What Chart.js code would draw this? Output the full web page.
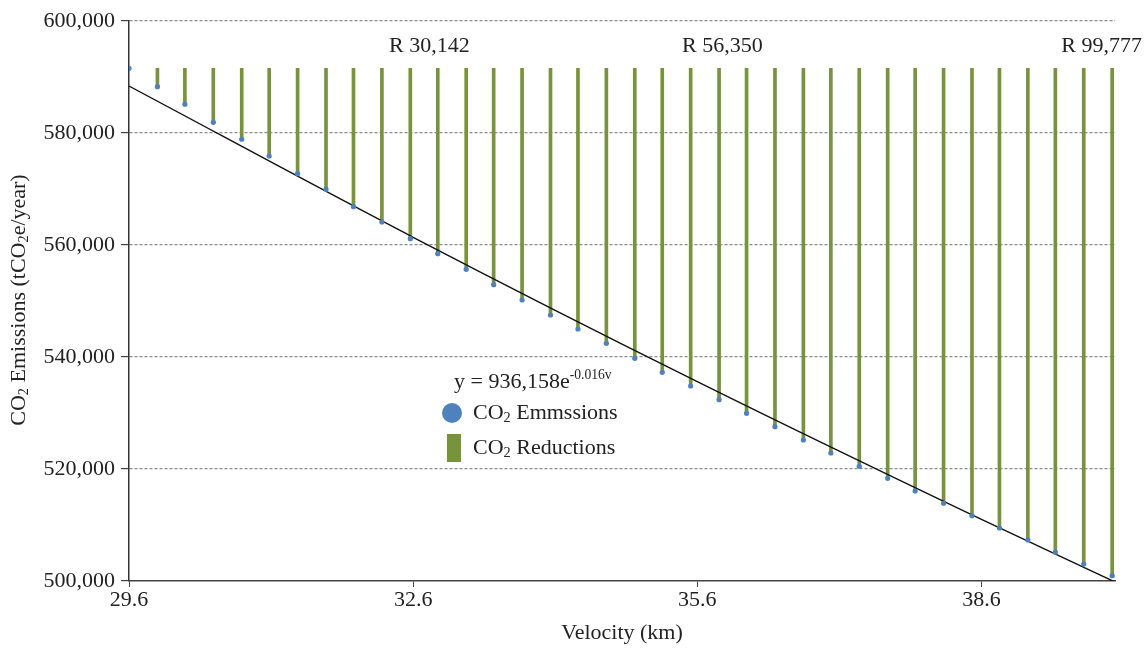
<!DOCTYPE html>
<html>
<head>
<meta charset="utf-8">
<title>CO2 emissions vs velocity</title>
<script src="https://cdn.jsdelivr.net/npm/chart.js@4.4.0/dist/chart.umd.min.js"></script>
<style>
  html, body { margin: 0; padding: 0; background: #fff; }
  #chart { display: block; }
</style>
</head>
<body>
<canvas id="chart" width="1146" height="648"></canvas>
<script>
// velocity (km) of each sample
const velocity = [
  29.60, 29.90, 30.19, 30.49, 30.79, 31.08, 31.38, 31.68, 31.97, 32.27,
  32.57, 32.86, 33.16, 33.45, 33.75, 34.05, 34.34, 34.64, 34.94, 35.23,
  35.53, 35.83, 36.12, 36.42, 36.72, 37.01, 37.31, 37.61, 37.90, 38.20,
  38.50, 38.79, 39.09, 39.38, 39.68, 39.98
];
// CO2 emissions (tCO2e/year)
const emissions = [
  591550, 588270, 585130, 581910, 578880, 575890, 572730, 569950, 566840, 564110,
  561130, 558450, 555660, 552910, 550180, 547500, 545000, 542450, 539770, 537270,
  534820, 532380, 529950, 527550, 525180, 522860, 520480, 518340, 516070, 513880,
  511660, 509460, 507320, 505130, 503040, 500950
];
// exponential trend line
const trendVelocity = [29.6, 32.6, 35.6, 38.6, 40.01];
const trendValues = [588390, 561380, 535600, 511000, 499830];

const xTicks = [29.6, 32.6, 35.6, 38.6];
const yTicks = [500000, 520000, 540000, 560000, 580000, 600000];
const reductionLabels = ['R 30,142', 'R 56,350', 'R 99,777'];
const equationText = 'y = 936,158e';
const equationExp = '-0.016v';

const FONT = "'Liberation Serif', 'Times New Roman', serif";
const TEXT = '#222';
const BLUE = '#4F81BD';
const GREEN = '#77933C';

// text with CO2 style subscripts: parts = [[str, 'sub'|'sup'|null], ...]
function richText(ctx, parts, x, y, size) {
  let cx = x;
  parts.forEach(([str, kind]) => {
    let s = size, dy = 0;
    if (kind === 'sub') { s = size * 0.65; dy = size * 0.22; }
    if (kind === 'sup') { s = size * 0.62; dy = -size * 0.32; }
    ctx.font = s + 'px ' + FONT;
    ctx.fillText(str, cx, y + dy);
    cx += ctx.measureText(str).width;
  });
  return cx - x;
}
function richWidth(ctx, parts, size) {
  let w = 0;
  parts.forEach(([str, kind]) => {
    let s = size;
    if (kind === 'sub') s = size * 0.65;
    if (kind === 'sup') s = size * 0.62;
    ctx.font = s + 'px ' + FONT;
    w += ctx.measureText(str).width;
  });
  return w;
}

const textPlugin = {
  id: 'texts',
  afterDraw(chart) {
    const ctx = chart.ctx;
    ctx.save();
    ctx.fillStyle = TEXT;
    ctx.textBaseline = 'middle';
    ctx.textAlign = 'left';

    // reduction annotations at top
    ctx.font = '22px ' + FONT;
    ctx.fillText(reductionLabels[0], 389, 46);
    ctx.fillText(reductionLabels[1], 682, 46);
    ctx.textAlign = 'right';
    ctx.fillText(reductionLabels[2], 1142, 46);
    ctx.textAlign = 'left';

    // trend equation
    richText(ctx, [[equationText, null], [equationExp, 'sup']], 454, 382, 22);

    // legend
    ctx.fillStyle = BLUE;
    ctx.beginPath();
    ctx.arc(452, 413, 10, 0, Math.PI * 2);
    ctx.fill();
    ctx.fillStyle = GREEN;
    ctx.fillRect(447, 434, 14, 28);
    ctx.fillStyle = TEXT;
    richText(ctx, [['CO', null], ['2', 'sub'], [' Emmssions', null]], 473, 413, 22);
    richText(ctx, [['CO', null], ['2', 'sub'], [' Reductions', null]], 473, 448, 22);

    // x axis title
    ctx.font = '22px ' + FONT;
    ctx.textAlign = 'center';
    ctx.fillText('Velocity (km)', 622, 633);

    // y axis title (rotated)
    const yParts = [['CO', null], ['2', 'sub'], [' Emissions (tCO', null], ['2', 'sub'], ['e/year)', null]];
    ctx.translate(19, 300);
    ctx.rotate(-Math.PI / 2);
    ctx.textAlign = 'left';
    const w = richWidth(ctx, yParts, 22);
    richText(ctx, yParts, -w / 2, 0, 22);
    ctx.restore();
  }
};

const ctx = document.getElementById('chart').getContext('2d');
const chart = new Chart(ctx, {
  type: 'scatter',
  data: {
    datasets: [
      {
        type: 'scatter',
        label: 'CO2 Emmssions',
        data: velocity.map((v, i) => ({ x: v, y: emissions[i] })),
        backgroundColor: BLUE,
        pointRadius: 2.6,
        borderWidth: 0,
        order: 0
      },
      {
        type: 'line',
        label: 'Trend',
        data: trendVelocity.map((v, i) => ({ x: v, y: trendValues[i] })),
        borderColor: '#111',
        borderWidth: 1.4,
        pointRadius: 0,
        cubicInterpolationMode: 'monotone',
        fill: false,
        order: 1
      },
      {
        type: 'bar',
        label: 'CO2 Reductions',
        data: velocity.map((v, i) => ({ x: v, y: [emissions[i], emissions[0]] })),
        backgroundColor: GREEN,
        borderWidth: 0,
        barThickness: 3,
        order: 2
      }
    ]
  },
  options: {
    responsive: false,
    animation: false,
    devicePixelRatio: 1,
    layout: { padding: { top: 21, right: 31, left: 0, bottom: 0 } },
    plugins: { legend: { display: false }, tooltip: { enabled: false } },
    scales: {
      x: {
        type: 'linear',
        min: 29.6,
        max: 40.01,
        offset: false,
        afterBuildTicks: s => { s.ticks = xTicks.map(v => ({ value: v })); },
        afterFit: s => { s.height = 67; },
        grid: { offset: false, drawOnChartArea: false, drawTicks: true, tickLength: 6, tickColor: '#444' },
        border: { color: '#444', width: 1.5 },
        ticks: {
          padding: 0,
          color: TEXT,
          font: { family: FONT, size: 22 },
          maxRotation: 0,
          callback: v => Number(v).toFixed(1)
        }
      },
      y: {
        min: 500000,
        max: 600000,
        afterBuildTicks: s => { s.ticks = yTicks.map(v => ({ value: v })); },
        afterFit: s => { s.width = 129; },
        grid: {
          color: c => c.tick.value === 500000 ? 'rgba(0,0,0,0)' : '#8c8c8c',
          lineWidth: 1.2,
          drawTicks: true,
          tickLength: 8,
          tickColor: '#444',
          tickBorderDash: []
        },
        border: { color: '#333', width: 1.5, dash: [3, 2] },
        ticks: {
          padding: 6,
          color: TEXT,
          font: { family: FONT, size: 22 },
          callback: v => Number(v).toLocaleString('en-US')
        }
      }
    }
  },
  plugins: [textPlugin]
});
</script>
</body>
</html>
